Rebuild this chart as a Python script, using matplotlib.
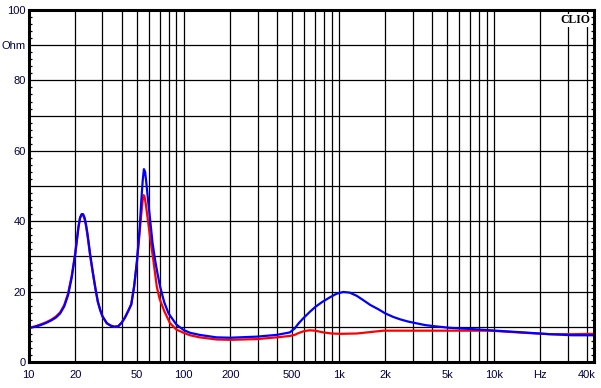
import matplotlib
matplotlib.use("Agg")
import matplotlib.pyplot as plt
from matplotlib.ticker import FixedLocator, MultipleLocator, NullFormatter

# ---- data ----
blue_freq = [10, 11, 12, 13, 14, 15, 16, 17, 18, 19, 20, 20.5, 21, 21.5, 22, 22.5, 23, 23.5,
             24, 24.5, 25, 26, 27, 28, 29, 30, 32, 34, 36, 38, 40, 42, 44, 46, 48, 50, 52,
             53.5, 54.5, 55.5, 56.5, 57.5, 59, 61, 63, 65.5, 68, 70.5, 75, 80, 90, 100, 110,
             127, 163, 200, 296, 398, 484, 520, 550, 591, 650, 705, 780, 880, 970, 1072,
             1180, 1308, 1450, 1600, 1800, 2000, 2250, 2500, 2800, 3170, 3600, 4070, 5240,
             7000, 9500, 15600, 23000, 32000, 44000]
blue_ohm = [9.6, 10.0, 10.5, 11.1, 11.8, 12.6, 13.8, 15.8, 19.0, 24.0, 30.5, 34.5, 38.3, 41.0,
            42.0, 42.0, 41.0, 39.0, 36.5, 33.5, 30.5, 25.5, 21.0, 17.2, 14.8, 13.0, 11.0, 10.3,
            10.0, 10.2, 11.2, 12.7, 14.5, 16.3, 21.5, 28.5, 37.5, 46.5, 51.5, 54.8, 54.0,
            51.0, 46.0, 40.0, 34.0, 29.0, 25.0, 21.5, 17.0, 13.8, 10.6, 9.1, 8.3, 7.7, 7.0,
            6.9, 7.2, 7.7, 8.4, 9.5, 10.9, 12.4, 14.2, 15.6, 17.0, 18.4, 19.4, 19.9, 19.7,
            18.8, 17.5, 16.2, 15.0, 13.8, 12.8, 12.1, 11.5, 11.0, 10.5, 10.2, 9.7, 9.4, 9.0,
            8.4, 7.9, 7.6, 7.6]

red_freq = [10, 11, 12, 13, 14, 15, 16, 17, 18, 19, 20, 20.5, 21, 21.5, 22, 22.5, 23, 23.5,
            24, 24.5, 25, 26, 27, 28, 29, 30, 32, 34, 36, 38, 40, 42, 44, 46, 48, 50, 52,
            53.5, 54.5, 55.3, 56, 57, 59, 61, 63.8, 67.2, 70, 75, 81.8, 90, 100, 110, 127,
            163, 200, 296, 398, 484, 520, 550, 600, 650, 705, 798, 900, 1030, 1310, 1600,
            1940, 5240, 9500, 15600, 23000, 32000, 44000]
red_ohm = [9.7, 10.1, 10.7, 11.3, 12.0, 12.9, 14.1, 16.2, 19.5, 24.5, 30.8, 34.7, 38.4, 40.9,
           41.8, 41.7, 40.6, 38.6, 36.0, 33.0, 30.0, 25.2, 20.8, 17.0, 14.7, 12.9, 11.0, 10.3,
           10.0, 10.2, 11.3, 12.8, 14.6, 16.5, 21.5, 28.3, 36.5, 42.5, 46.0, 47.4, 47.0,
           45.0, 40.0, 35.0, 29.0, 21.4, 18.0, 14.5, 11.0, 9.2, 8.3, 7.6, 7.0, 6.4, 6.3,
           6.5, 7.0, 7.4, 7.7, 8.2, 8.8, 9.0, 8.9, 8.4, 8.1, 8.0, 8.1, 8.5, 8.9, 8.9, 8.9,
           8.3, 7.9, 7.9, 8.0]

x_ticks = [10, 20, 30, 40, 50, 60, 70, 80, 90, 100, 200, 300, 400, 500, 600, 700, 800, 900,
           1000, 2000, 3000, 4000, 5000, 6000, 7000, 8000, 9000, 10000, 20000, 30000, 40000]
x_labels = {10: "10", 20: "20", 50: "50", 100: "100", 200: "200", 500: "500", 1000: "1k",
            2000: "2k", 5000: "5k", 10000: "10k", 20000: "Hz", 40000: "40k"}
y_ticks = [0, 10, 20, 30, 40, 50, 60, 70, 80, 90, 100]
y_labels = {0: "0", 20: "20", 40: "40", 60: "60", 80: "80", 90: "Ohm", 100: "100"}

# ---- figure ----
fig = plt.figure(figsize=(6.01, 3.88), dpi=100)
ax = fig.add_axes([28.5 / 601, 1 - 362 / 388, 565 / 601, 352 / 388])
ax.set_xscale("log")
ax.set_xlim(10, 44000)
ax.set_ylim(0, 100)

ax.plot(red_freq, red_ohm, color="#ff0000", lw=1.6, solid_joinstyle="round", zorder=3)
ax.plot(blue_freq, blue_ohm, color="#0000ff", lw=1.6, solid_joinstyle="round", zorder=4)

label_color = "#000040"
ax.xaxis.set_major_locator(FixedLocator(x_ticks))
ax.xaxis.set_minor_locator(FixedLocator([]))
ax.set_xticklabels([x_labels.get(t, "") for t in x_ticks])
ax.yaxis.set_major_locator(FixedLocator(y_ticks))
ax.set_yticklabels([y_labels.get(t, "") for t in y_ticks])
ax.yaxis.set_minor_locator(MultipleLocator(2))
ax.yaxis.set_minor_formatter(NullFormatter())

ax.grid(True, which="major", color="black", lw=0.9)
ax.tick_params(axis="both", which="major", length=0, labelsize=8, labelcolor=label_color,
               labelfontfamily="Liberation Sans")
ax.tick_params(axis="x", which="major", pad=6)
ax.tick_params(axis="y", which="major", pad=2)
ax.tick_params(axis="y", which="minor", direction="in", length=2.5, width=0.9,
               left=True, right=True, color="black")

for s in ax.spines.values():
    s.set_linewidth(2.2)
    s.set_color("black")
    s.set_zorder(5)

ax.text(0.994, 0.988, "CLIO", transform=ax.transAxes, ha="right", va="top",
        fontsize=8.5, fontweight="bold", family="Liberation Serif", color="black", zorder=6,
        bbox=dict(facecolor="white", edgecolor="none", pad=0.5))

fig.savefig("out.png", dpi=100, facecolor="white")
